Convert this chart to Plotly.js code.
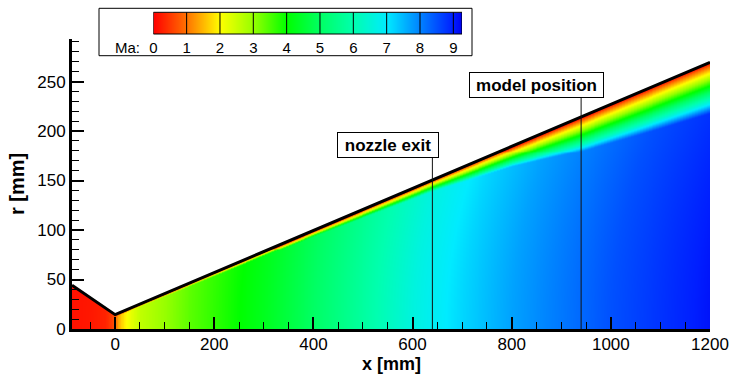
<!DOCTYPE html>
<html><head><meta charset="utf-8">
<script src="https://cdn.plot.ly/plotly-3.0.1.min.js"></script>
<style>html,body{margin:0;padding:0;background:#fff}#chart{width:730px;height:374px}</style>
</head><body><div id="chart"></div>
<script>
// ---------- data ----------
// nozzle wall contour [mm]
const wallX = [-87, 0, 1200];
const wallR = [44.2, 14.5, 269.5];
// Mach number on the axis (r = 0)
const axisX  = [-87, -50, -20, -5, 0, 10, 25, 50, 100, 150, 200, 250, 300, 400, 500, 600, 700, 800, 900, 1000, 1100, 1200];
const axisMa = [0.15, 0.2, 0.3, 0.6, 1.0, 1.6, 2.1, 2.6, 3.0, 3.4, 3.7, 4.0, 4.3, 5.0, 5.8, 6.6, 7.2, 7.7, 8.1, 8.5, 8.8, 9.1];
// boundary-layer thickness below the wall [mm]
const blX     = [-87, 0, 200, 400, 640, 800, 940, 1100, 1200];
const blDelta = [2, 1, 3, 5, 11, 20, 34, 45, 51];
// boundary-layer profile: Ma/Ma_core vs distance/thickness
const blEta   = [0, 0.08, 0.2, 0.44, 0.8, 1.0];
const blRatio = [0, 0.11, 0.22, 0.44, 0.77, 1.0];
const coreTilt = 0.002;   // iso-Mach lines lean upstream away from the axis
// marked stations
const stationX = [640, 940];
const stationLabels = ['nozzle exit', 'model position'];
// colour legend
const legendTicks = [0, 1, 2, 3, 4, 5, 6, 7, 8, 9];
const legendTickText = ['0', '1', '2', '3', '4', '5', '6', '7', '8', '9'];
const maMax = 9.26;
const colorStops = [
  [0, 'rgb(255,0,0)'], [1, 'rgb(255,115,0)'], [2, 'rgb(255,255,0)'], [3, 'rgb(150,255,0)'],
  [4, 'rgb(0,255,0)'], [5, 'rgb(0,255,100)'], [6, 'rgb(0,255,175)'], [7, 'rgb(0,235,255)'],
  [8, 'rgb(0,130,255)'], [9, 'rgb(0,30,255)'], [9.26, 'rgb(0,0,240)']
];

// ---------- layout positions (pixels of the 730x374 page) ----------
const W = 730, H = 374;
const plotL = 72, plotR = 710, plotT = 39, plotB = 329;
const labelPos = [{x: 551, y: 186}, {x: 850, y: 246.5}];
const labelBox = [{w: 100, h: 24}, {w: 133, h: 24}];

function interp(xa, ya, x) {
  if (x <= xa[0]) return ya[0];
  const n = xa.length;
  if (x >= xa[n - 1]) return ya[n - 1];
  for (let i = 1; i < n; i++) {
    if (x <= xa[i]) {
      const t = (x - xa[i - 1]) / (xa[i] - xa[i - 1]);
      return ya[i - 1] + t * (ya[i] - ya[i - 1]);
    }
  }
  return ya[n - 1];
}

// build the field table for the heatmap
const gx = [], gr = [];
for (let x = -87; x <= 1200; x += 3) gx.push(x);
for (let r = 0; r <= 276; r += 1) gr.push(r);
const gz = gr.map(r => gx.map(x => {
  const rw = interp(wallX, wallR, x);
  const dv = rw - r;
  if (dv <= 0) return 0;
  const core = interp(axisX, axisMa, x - coreTilt * r * r);
  const d = interp(blX, blDelta, x);
  const eta = dv / d;
  const ratio = eta >= 1 ? 1 : interp(blEta, blRatio, eta);
  return core * ratio;
}));

const colorscale = colorStops.map(s => [s[0] / maMax, s[1]]);

// legend bar table
const lx = [];
for (let v = 0; v <= maMax + 1e-9; v += 0.02) lx.push(v);
const lz = [lx.slice(), lx.slice()];

const FONT = 'Liberation Sans, Arial, sans-serif';

const traces = [
  {type: 'heatmap', x: gx, y: gr, z: gz, zmin: 0, zmax: maMax, colorscale: colorscale,
   zsmooth: 'best', showscale: false, hoverinfo: 'skip'},
  {type: 'scatter', mode: 'lines', x: wallX.concat([wallX[wallX.length - 1], wallX[0]]),
   y: wallR.concat([400, 400]), fill: 'toself', fillcolor: '#ffffff', line: {width: 0},
   hoverinfo: 'skip', showlegend: false},
  {type: 'scatter', mode: 'lines', x: wallX, y: wallR, line: {color: '#000', width: 3},
   hoverinfo: 'skip', showlegend: false},
  {type: 'heatmap', x: lx, y: [0, 1], z: lz, zmin: 0, zmax: maMax, colorscale: colorscale,
   zsmooth: 'best', showscale: false, xaxis: 'x2', yaxis: 'y2', hoverinfo: 'skip'}
];

const shapes = [];
const annotations = [];
stationX.forEach((sx, i) => {
  const boxBottom = labelPos[i].y - (labelBox[i].h / 2 + 1) * (293 / (plotB - plotT));
  shapes.push({type: 'line', xref: 'x', yref: 'y', x0: sx, x1: sx, y0: 0, y1: boxBottom,
               line: {color: '#111', width: 1}, layer: 'above'});
  annotations.push({xref: 'x', yref: 'y', x: labelPos[i].x, y: labelPos[i].y,
    text: '<b>' + stationLabels[i] + '</b>', showarrow: false, bgcolor: '#fff',
    bordercolor: '#000', borderwidth: 1, borderpad: 0, width: labelBox[i].w, height: labelBox[i].h,
    font: {family: FONT, size: 17, color: '#000'}});
});
// legend frame
shapes.push({type: 'rect', xref: 'paper', yref: 'paper', x0: 99 / W, x1: 472 / W,
  y0: (H - 55.7) / H, y1: (H - 8.3) / H, line: {color: '#000', width: 1},
  fillcolor: 'rgba(0,0,0,0)', layer: 'above'});
// legend bar frame and dividers
shapes.push({type: 'rect', xref: 'x2', yref: 'y2 domain', x0: 0, x1: maMax, y0: 0, y1: 1,
  line: {color: '#000', width: 1}, layer: 'above'});
legendTicks.slice(1).forEach(v => shapes.push({type: 'line', xref: 'x2', yref: 'y2 domain',
  x0: v, x1: v, y0: 0, y1: 1, line: {color: '#000', width: 1}, layer: 'above'}));
annotations.push({xref: 'paper', yref: 'paper', x: 127.5 / W, y: (H - 48) / H, text: 'Ma:',
  showarrow: false, font: {family: FONT, size: 15, color: '#000'}, xanchor: 'center', yanchor: 'middle'});
// x-axis title
annotations.push({xref: 'paper', yref: 'paper', x: 391 / W, y: (H - 363.5) / H, text: '<b>x [mm]</b>',
  showarrow: false, font: {family: FONT, size: 18, color: '#000'}, xanchor: 'center', yanchor: 'middle'});

const axisCommon = {
  showline: true, linecolor: '#000', linewidth: 3, mirror: false,
  ticks: 'inside', ticklen: 12, tickwidth: 2, tickcolor: '#000',
  showgrid: false, zeroline: false, fixedrange: true,
  tickfont: {family: FONT, size: 17, color: '#000'}
};

const layout = {
  width: W, height: H, margin: {l: 0, r: 0, t: 0, b: 0},
  paper_bgcolor: '#fff', plot_bgcolor: '#fff', showlegend: false,
  xaxis: Object.assign({}, axisCommon, {
    domain: [plotL / W, plotR / W], range: [-87, 1200], tick0: 0, dtick: 200, anchor: 'y',
    minor: {dtick: 50, tick0: 0, ticks: 'inside', ticklen: 7, tickwidth: 1, tickcolor: '#000'},
    ticklabelstandoff: -2, automargin: false
  }),
  yaxis: Object.assign({}, axisCommon, {
    domain: [(H - plotB) / H, (H - plotT) / H], range: [0, 293], tick0: 0, dtick: 50, anchor: 'x',
    minor: {dtick: 10, tick0: 0, ticks: 'inside', ticklen: 7, tickwidth: 1, tickcolor: '#000'},
    title: {text: '<b>r [mm]</b>', font: {family: FONT, size: 20, color: '#000'}, standoff: 8},
    automargin: false
  }),
  xaxis2: {domain: [153.3 / W, 462 / W], range: [0, maMax], anchor: 'y2',
    showline: false, showgrid: false, zeroline: false, ticks: '', fixedrange: true,
    tickvals: legendTicks, ticktext: legendTickText, ticklabelstandoff: 3,
    tickfont: {family: FONT, size: 15, color: '#000'}, automargin: false},
  yaxis2: {domain: [(H - 34) / H, (H - 12.3) / H], range: [0, 1], anchor: 'x2',
    showticklabels: false, showline: false, showgrid: false, zeroline: false, ticks: '', fixedrange: true},
  shapes: shapes, annotations: annotations
};

Plotly.newPlot('chart', traces, layout, {staticPlot: true, displayModeBar: false});
</script>
</body></html>
